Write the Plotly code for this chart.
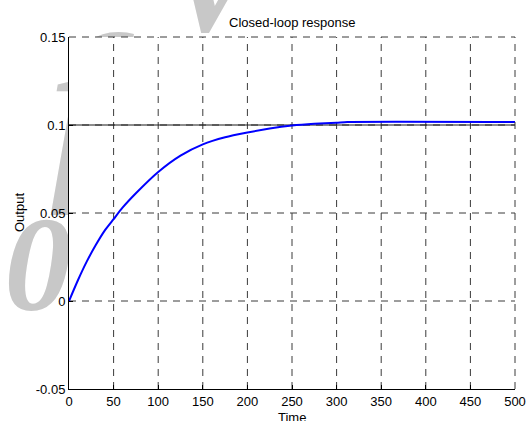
import plotly.graph_objects as go

# Closed-loop step response samples (time, output)
time = [0, 10, 20, 30, 40, 50, 60, 75, 100, 125, 150, 175, 200, 225, 250, 275, 300, 312, 500]
output = [0, 0.0118, 0.0225, 0.0318, 0.0400, 0.0465, 0.0530, 0.0612, 0.0733, 0.0826,
          0.0890, 0.0930, 0.0957, 0.0980, 0.0997, 0.1007, 0.1013, 0.1017, 0.1017]

# Setpoint reference
ref_time = [0, 500]
ref_value = [0.1, 0.1]

x_range = [0, 500]
y_range = [-0.05, 0.15]
x_ticks = [0, 50, 100, 150, 200, 250, 300, 350, 400, 450, 500]
y_ticks = [-0.05, 0, 0.05, 0.1, 0.15]
y_tick_text = ["-0.05", "0", "0.05", "0.1", "0.15"]

# Faint background stamp in page pixels (glyph, x, y, size);
# the axes box is painted over it, so only the margins show it
stamp_text = ["0", "f", "V"]
stamp_x = [38, 84, 212]
stamp_y = [276, 123, -4]
stamp_size = [135, 200, 140]

W, H = 528, 421
BOX = dict(left=69, right=515, top=37, bottom=389)

FONT = "Liberation Sans, Arial, sans-serif"
GRID = "#3a3a3a"
DASH = "7px,6px"

fig = go.Figure()

# page-wide helper axes for the stamp (first subplot, drawn underneath)
fig.add_trace(go.Scatter(
    x=stamp_x, y=stamp_y, text=stamp_text, mode="text", textposition="middle center",
    textfont=dict(family="Liberation Serif, serif", size=stamp_size, color="#c8c8c8",
                  weight="bold", style="italic"),
    xaxis="x", yaxis="y", hoverinfo="skip", cliponaxis=True))

# dashed grid at interior ticks; the box edges get their own dashed borders below
gx, gy = [], []
for t in x_ticks:
    if x_range[0] < t < x_range[1]:
        gx += [t, t, None]
        gy += [y_range[0], y_range[1], None]
for v in y_ticks:
    if y_range[0] < v < y_range[1]:
        gx += [x_range[0], x_range[1], None]
        gy += [v, v, None]
fig.add_trace(go.Scatter(x=gx, y=gy, mode="lines", xaxis="x2", yaxis="y2",
                         line=dict(color=GRID, width=1, dash=DASH), hoverinfo="skip"))

fig.add_trace(go.Scatter(x=ref_time, y=ref_value, mode="lines", xaxis="x2", yaxis="y2",
                         line=dict(color="#1a1a1a", width=1), hoverinfo="skip"))
fig.add_trace(go.Scatter(x=time, y=output, mode="lines", xaxis="x2", yaxis="y2",
                         line=dict(color="#0000ff", width=2, shape="spline", smoothing=0.6)))

axis_common = dict(
    showgrid=False, showline=True, linecolor="black", linewidth=1, mirror=False,
    ticks="inside", ticklen=4, tickcolor="black", zeroline=False, automargin=False,
    tickfont=dict(family=FONT, size=13, color="black"),
)

fig.update_layout(
    width=W, height=H, autosize=False,
    margin=dict(l=0, r=0, t=0, b=0),
    paper_bgcolor="white", plot_bgcolor="white",
    showlegend=False,
    xaxis=dict(domain=[0, 1], range=[0, W], visible=False, fixedrange=True, automargin=False),
    yaxis=dict(domain=[0, 1], range=[H, 0], visible=False, fixedrange=True, automargin=False),
    xaxis2=dict(domain=[BOX["left"] / W, BOX["right"] / W], anchor="y2",
                range=x_range, tickvals=x_ticks, **axis_common),
    yaxis2=dict(domain=[1 - BOX["bottom"] / H, 1 - BOX["top"] / H], anchor="x2",
                range=y_range, tickvals=y_ticks, ticktext=y_tick_text, **axis_common),
    shapes=[
        dict(type="line", xref="x2 domain", yref="y2 domain", x0=0, x1=1, y0=1, y1=1,
             line=dict(color=GRID, width=1, dash=DASH), layer="above"),
        dict(type="line", xref="x2 domain", yref="y2 domain", x0=1, x1=1, y0=0, y1=1,
             line=dict(color=GRID, width=1, dash=DASH), layer="above"),
    ],
    annotations=[
        dict(text="Closed-loop response", x=0.5, y=1.0, xref="x2 domain", yref="y2 domain",
             xanchor="center", yanchor="middle", yshift=14, showarrow=False,
             font=dict(family=FONT, size=13, color="black")),
        dict(text="Time", x=0.5, y=0, xref="x2 domain", yref="y2 domain",
             xanchor="center", yanchor="middle", yshift=-28, showarrow=False,
             font=dict(family=FONT, size=13, color="black")),
        dict(text="Output", x=0, y=0.5, xref="x2 domain", yref="y2 domain",
             xanchor="center", yanchor="middle", xshift=-50, textangle=-90,
             showarrow=False, font=dict(family=FONT, size=13, color="black")),
    ],
)

fig.write_html("out.html")
